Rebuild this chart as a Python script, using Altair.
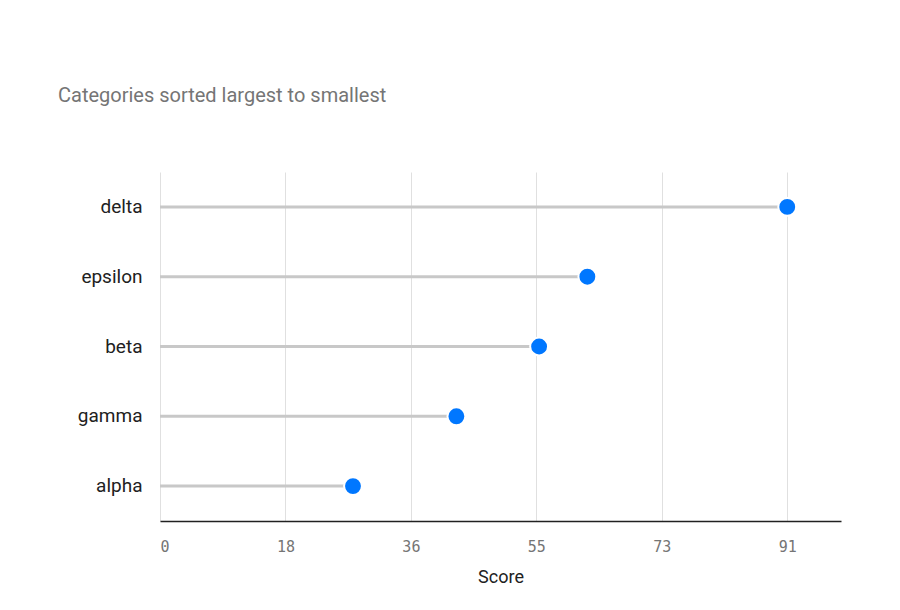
import altair as alt
import pandas as pd

categories = ["delta", "epsilon", "beta", "gamma", "alpha"]
scores = [91, 62, 55, 43, 28]
tick_values = [0, 18.2, 36.4, 54.6, 72.8, 91]

df = pd.DataFrame({"category": categories, "score": scores, "zero": [0] * len(scores)})

x_scale = alt.Scale(domain=[0, 98.8], nice=False, zero=True)
y_enc = alt.Y("category:N", sort=categories, title=None,
              scale=alt.Scale(paddingInner=0, paddingOuter=0),
              axis=alt.Axis(domain=False, ticks=False, grid=False, labelPadding=18,
                            labelFont="Roboto", labelFontSize=19, labelColor="#212121"))

stems = alt.Chart(df).mark_rule(color="#c8c8c8", strokeWidth=3).encode(
    x=alt.X("zero:Q", scale=x_scale, title="Score",
            axis=alt.Axis(values=tick_values, format=".0f", domain=True, domainColor="#212121",
                          domainWidth=1.5, ticks=False, grid=True, gridColor="#e0e0e0",
                          gridWidth=1, labelFont="DejaVu Sans Mono", labelFontSize=15,
                          labelColor="#757575", labelPadding=18, titleFont="Roboto",
                          titleFontSize=18, titleFontWeight="normal", titleColor="#212121",
                          titlePadding=14)),
    x2="score:Q",
    y=y_enc,
)

dots = alt.Chart(df).mark_circle(color="#0077ff", opacity=1, size=320, stroke="white",
                                 strokeWidth=2).encode(
    x=alt.X("score:Q", scale=x_scale),
    y=alt.Y("category:N", sort=categories),
)

chart = alt.layer(stems, dots).properties(
    width=681, height=349,
    autosize=alt.AutoSizeParams(type="none"),
    padding={"left": 152, "top": 164, "right": 40, "bottom": 80},
    title=alt.TitleParams("Categories sorted largest to smallest", anchor="start",
                          frame="group", font="Roboto", fontSize=20, fontWeight="normal",
                          color="#757575", dx=-102, offset=66),
).configure_view(stroke=None)

chart.save("out.html", embed_options={"renderer": "svg", "actions": False})
